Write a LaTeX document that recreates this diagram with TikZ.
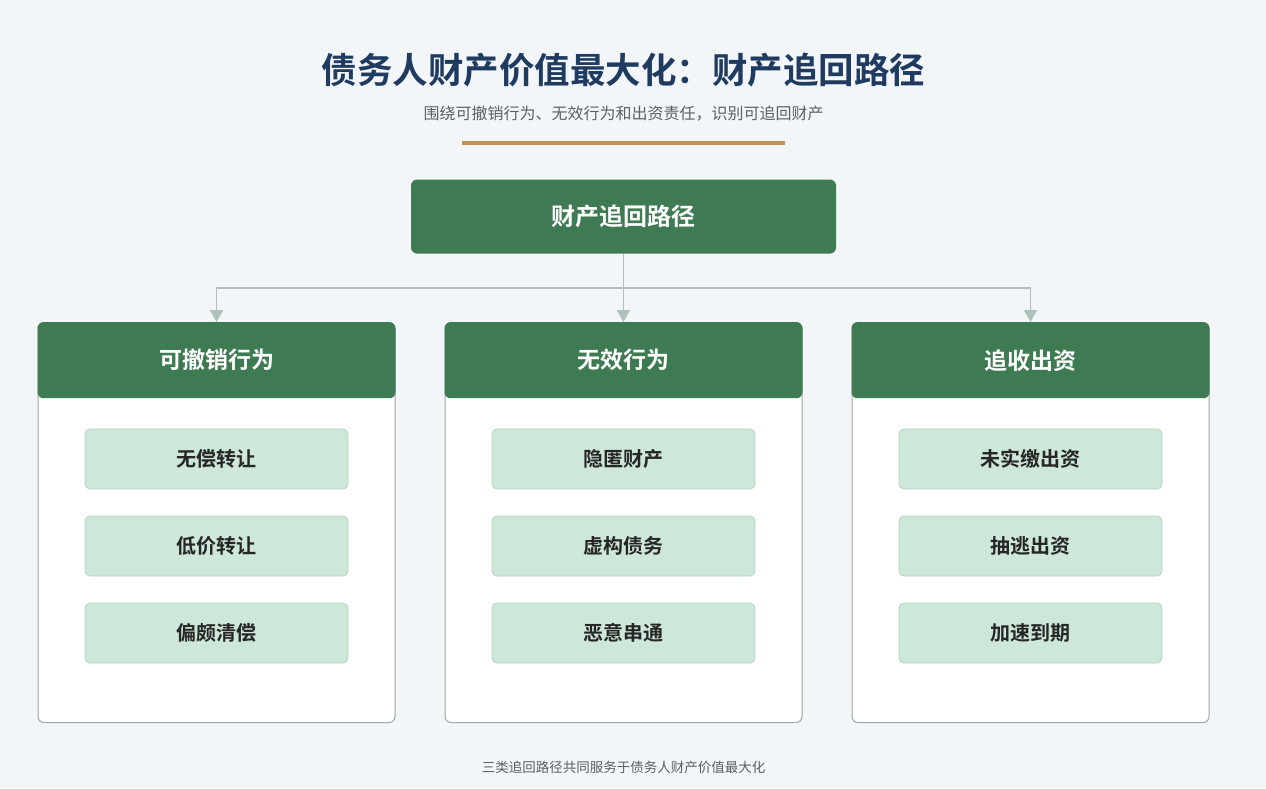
\documentclass[tikz,border=0pt]{standalone}
\usepackage{fontspec}
\setmainfont{Noto Sans CJK SC}[BoldFont={Noto Sans CJK SC Bold}]
\usetikzlibrary{arrows.meta}

\definecolor{bgcol}{HTML}{F3F6F9}
\definecolor{titlecol}{HTML}{1F3B60}
\definecolor{subcol}{HTML}{5A5F66}
\definecolor{goldcol}{HTML}{BF9452}
\definecolor{headcol}{HTML}{3F7B52}
\definecolor{itemcol}{HTML}{CDE7D8}
\definecolor{itemline}{HTML}{B5D4C2}
\definecolor{linkcol}{HTML}{AEC2BB}
\definecolor{boxline}{HTML}{9FA7A6}

\tikzset{
  colbox/.style={draw=boxline, line width=1pt, fill=white, rounded corners=6pt,
    minimum width=357pt, minimum height=400pt, anchor=north, inner sep=0pt},
  headbox/.style={fill=headcol, rounded corners=6pt, text=white,
    font=\fontsize{23}{26}\selectfont\bfseries,
    minimum width=358pt, minimum height=76pt, anchor=north, inner sep=0pt},
  itembox/.style={draw=itemline, line width=0.8pt, fill=itemcol, rounded corners=5pt,
    text=black!85, font=\fontsize{20}{24}\selectfont\bfseries,
    minimum width=263pt, minimum height=60pt, inner sep=0pt},
  link/.style={draw=linkcol, line width=1.8pt},
  linkarrow/.style={link, -{Triangle[length=12pt,width=13pt]}}
}

\begin{document}
\begin{tikzpicture}[x=1pt, y=-1pt]
  \fill[bgcol] (0,0) rectangle (1266,788);
  \useasboundingbox (0,0) rectangle (1266,788);

  % title block
  \node[text=titlecol, font=\fontsize{35.5}{40}\selectfont\bfseries] (title) at (623.5,70) {债务人财产价值最大化：财产追回路径};
  \node[text=subcol, font=\fontsize{16}{19}\selectfont] (subtitle) at (623.5,114) {围绕可撤销行为、无效行为和出资责任，识别可追回财产};
  \fill[goldcol] (462,141) rectangle (785,145);

  % root
  \node[fill=headcol, rounded corners=6pt, text=white, font=\fontsize{24}{28}\selectfont\bfseries,
    minimum width=425pt, minimum height=74pt, inner sep=0pt] (root) at (623.5,216.5) {财产追回路径};

  % columns
  \node[colbox] (col1) at (216.5,322) {};
  \node[colbox] (col2) at (623.5,322) {};
  \node[colbox] (col3) at (1030.5,322) {};

  \node[headbox] (head1) at (216.5,322) {可撤销行为};
  \node[headbox] (head2) at (623.5,322) {无效行为};
  \node[headbox] (head3) at (1030.5,322) {追收出资};

  \node[itembox] (item11) at (216.5,459) {无偿转让};
  \node[itembox] (item12) at (216.5,546) {低价转让};
  \node[itembox] (item13) at (216.5,633) {偏颇清偿};

  \node[itembox] (item21) at (623.5,459) {隐匿财产};
  \node[itembox] (item22) at (623.5,546) {虚构债务};
  \node[itembox] (item23) at (623.5,633) {恶意串通};

  \node[itembox] (item31) at (1030.5,459) {未实缴出资};
  \node[itembox] (item32) at (1030.5,546) {抽逃出资};
  \node[itembox] (item33) at (1030.5,633) {加速到期};

  % connectors
  \coordinate (bus) at (623.5,288);
  \draw[link] (root.south) -- (bus);
  \draw[linkarrow] (bus) -| (head1.north);
  \draw[linkarrow] (bus) -- (head2.north);
  \draw[linkarrow] (bus) -| (head3.north);

  \node[text=subcol, font=\fontsize{13.5}{16}\selectfont] (footer) at (623.5,767) {三类追回路径共同服务于债务人财产价值最大化};
\end{tikzpicture}
\end{document}
